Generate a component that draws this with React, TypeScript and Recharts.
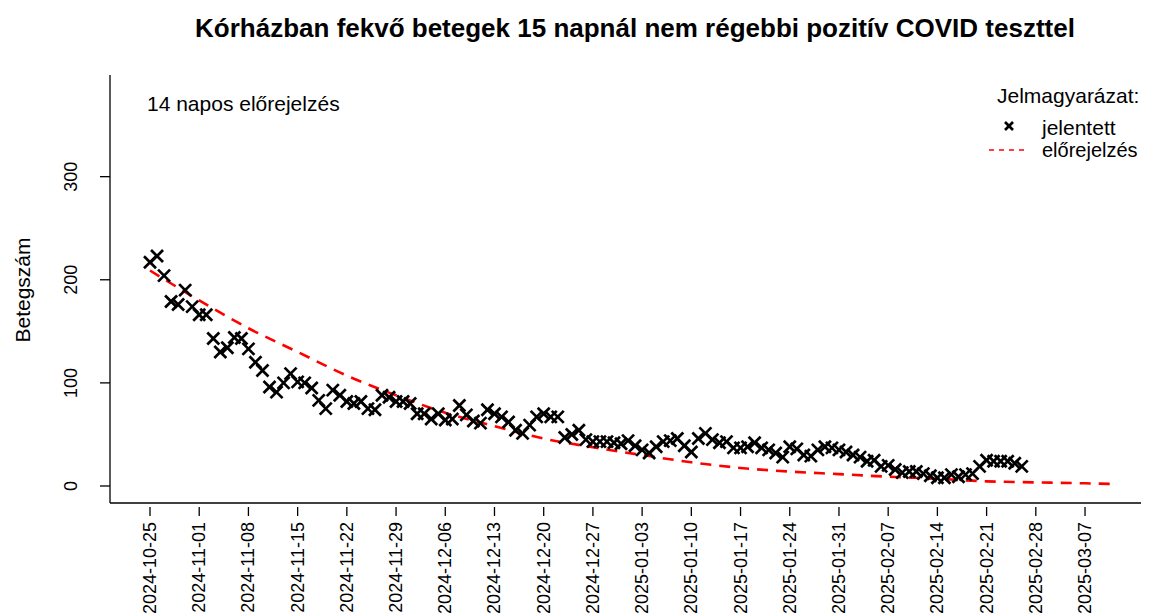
import React from 'react';
import { ComposedChart, Scatter, Line, XAxis, YAxis } from 'recharts';

// daily reported values starting at reportedStart
const reportedStart = '2024-10-25';
const reportedValues = [
  217, 223, 204, 179, 176, 190, 174, 166, 166, 143,
  130, 134, 144, 143, 133, 120, 112, 96, 91, 100,
  109, 101, 100, 95, 83, 75, 93, 88, 82, 80,
  82, 75, 74, 88, 86, 82, 82, 80, 70, 70,
  65, 70, 64, 65, 78, 69, 63, 61, 74, 70,
  67, 62, 54, 51, 59, 67, 70, 67, 67, 47,
  50, 54, 45, 43, 43, 43, 42, 41, 44, 39,
  35, 32, 38, 43, 44, 46, 39, 33, 46, 51,
  45, 42, 43, 37, 37, 38, 42, 37, 35, 32,
  28, 38, 36, 30, 29, 35, 38, 37, 35, 33,
  30, 28, 24, 25, 19, 20, 16, 13, 14, 14,
  12, 10, 8, 8, 11, 9, 11, 12, 19, 25,
  24, 24, 24, 22, 19,
];

const forecastDates = [
  '2024-10-25', '2024-11-01', '2024-11-08', '2024-11-15', '2024-11-22', '2024-11-29',
  '2024-12-06', '2024-12-13', '2024-12-20', '2024-12-27', '2025-01-03', '2025-01-10',
  '2025-01-17', '2025-01-24', '2025-01-31', '2025-02-07', '2025-02-14', '2025-02-21',
  '2025-02-28', '2025-03-07', '2025-03-11',
];
const forecastValues = [
  209, 180, 153, 130, 107, 88, 71, 58, 46, 37.5, 30, 23, 17.5, 14, 11.5, 9, 7, 4.5, 3.5, 2.6, 2,
];

const xTickLabels = [
  '2024-10-25', '2024-11-01', '2024-11-08', '2024-11-15', '2024-11-22', '2024-11-29',
  '2024-12-06', '2024-12-13', '2024-12-20', '2024-12-27', '2025-01-03', '2025-01-10',
  '2025-01-17', '2025-01-24', '2025-01-31', '2025-02-07', '2025-02-14', '2025-02-21',
  '2025-02-28', '2025-03-07',
];
const yTicks = [0, 100, 200, 300];

const DAY = 86400000;
const t0 = Date.parse(reportedStart + 'T00:00:00Z');
const toDay = (d: string) => Math.round((Date.parse(d + 'T00:00:00Z') - t0) / DAY);
const fromDay = (n: number) => new Date(t0 + n * DAY).toISOString().slice(0, 10);

const reportedData = reportedValues.map((v, i) => ({ day: i, value: v }));
const forecastData = forecastDates.map((d, i) => ({ day: toDay(d), value: forecastValues[i] }));
const xTicks = xTickLabels.map(toDay);

const FONT = '"Liberation Sans", Arial, sans-serif';
const FS = 21;   // annotation / legend text
const AXFS = 18; // axis tick labels

const Cross = (props: any) => {
  const { cx, cy } = props;
  const r = 6;
  return (
    <g stroke="#000" strokeWidth={2.7}>
      <line x1={cx - r} y1={cy - r} x2={cx + r} y2={cy + r} />
      <line x1={cx - r} y1={cy + r} x2={cx + r} y2={cy - r} />
    </g>
  );
};

const XTick = (props: any) => {
  const { x, y, payload } = props;
  const ty = y + 19;
  return (
    <g>
      <line x1={x} x2={x} y1={y + 4} y2={y + 13} stroke="#000" strokeWidth={1.3} />
      <text
        x={x}
        y={ty}
        transform={`rotate(-90 ${x} ${ty})`}
        textAnchor="end"
        dominantBaseline="central"
        fontSize={AXFS}
        fontFamily={FONT}
        fill="#000"
      >
        {fromDay(payload.value)}
      </text>
    </g>
  );
};

const YTick = (props: any) => {
  const { x, y, payload } = props;
  const tx = x - 29;
  return (
    <text
      x={tx}
      y={y}
      transform={`rotate(-90 ${tx} ${y})`}
      textAnchor="middle"
      dominantBaseline="central"
      fontSize={AXFS}
      fontFamily={FONT}
      fill="#000"
    >
      {payload.value}
    </text>
  );
};

export default function App() {
  return (
    <div style={{ position: 'relative', width: 1141, height: 608, fontFamily: FONT }}>
      <style>{'html{overflow:hidden}'}</style>
      <ComposedChart
        width={1141}
        height={608}
        margin={{ top: 67, right: 0, bottom: 0, left: 0 }}
        style={{ overflow: 'visible' }}
      >
        <XAxis
          dataKey="day"
          type="number"
          domain={[-5.69, 142.1]}
          ticks={xTicks}
          allowDataOverflow
          height={113}
          tickSize={0}
          tickMargin={0}
          tickLine={false}
          axisLine={{ stroke: '#000', strokeWidth: 1.3 }}
          tick={<XTick />}
          interval={0}
        />
        <YAxis
          dataKey="value"
          type="number"
          domain={[-16.5, 398.6]}
          ticks={yTicks}
          allowDataOverflow
          width={102}
          tickSize={10}
          tickMargin={0}
          tickLine={{ stroke: '#000', strokeWidth: 1.3 }}
          axisLine={{ stroke: '#000', strokeWidth: 1.3 }}
          tick={<YTick />}
          interval={0}
        />
        <Line
          data={forecastData}
          dataKey="value"
          type="monotone"
          stroke="#ff0000"
          strokeWidth={2.6}
          strokeDasharray="11 8"
          dot={false}
          activeDot={false}
          isAnimationActive={false}
        />
        <Scatter data={reportedData} dataKey="value" shape={<Cross />} isAnimationActive={false} />
      </ComposedChart>
      <svg
        width={1141}
        height={608}
        style={{ position: 'absolute', left: 0, top: 0, pointerEvents: 'none', overflow: 'visible' }}
      >
        <text x={627} y={20} textAnchor="middle" dominantBaseline="central" fontSize={26} fontWeight="bold" fontFamily={FONT}>
          Kórházban fekvő betegek 15 napnál nem régebbi pozitív COVID teszttel
        </text>
        <text x={139} y={95} dominantBaseline="central" fontSize={FS} fontFamily={FONT}>
          14 napos előrejelzés
        </text>
        <text
          x={14}
          y={282}
          transform="rotate(-90 14 282)"
          textAnchor="middle"
          dominantBaseline="central"
          fontSize={FS}
          fontFamily={FONT}
        >
          Betegszám
        </text>
        <text x={989} y={87} dominantBaseline="central" fontSize={FS} fontFamily={FONT}>
          Jelmagyarázat:
        </text>
        <g stroke="#000" strokeWidth={2.6}>
          <line x1={997} y1={114} x2={1005} y2={122} />
          <line x1={997} y1={122} x2={1005} y2={114} />
        </g>
        <text x={1034} y={119} dominantBaseline="central" fontSize={FS} fontFamily={FONT}>
          jelentett
        </text>
        <line x1={981} y1={142} x2={1019} y2={142} stroke="#ff0000" strokeWidth={1.5} strokeDasharray="5 5" />
        <text x={1034} y={142} dominantBaseline="central" fontSize={20} fontFamily={FONT}>
          előrejelzés
        </text>
      </svg>
    </div>
  );
}
